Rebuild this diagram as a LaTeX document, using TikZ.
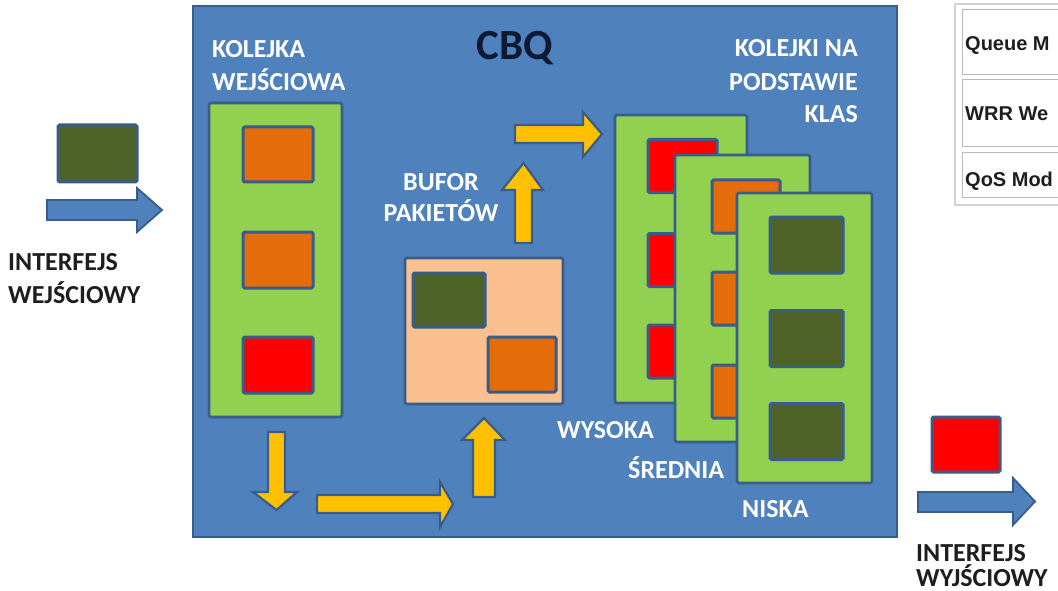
\documentclass[tikz,border=0pt]{standalone}
\usepackage{fontspec}
\setmainfont{Carlito}
\newfontfamily\tabfont{Liberation Sans}
\definecolor{bordc}{HTML}{385D8A}
\definecolor{bluec}{HTML}{4F81BD}
\definecolor{greenc}{HTML}{92D050}
\definecolor{orangec}{HTML}{E46C0A}
\definecolor{redc}{HTML}{FF0000}
\definecolor{dgreenc}{HTML}{4F6228}
\definecolor{peachc}{HTML}{FAC090}
\definecolor{yellowc}{HTML}{FFC000}
\definecolor{textc}{HTML}{1E1E1E}
\definecolor{cbqc}{HTML}{0E1A33}
\begin{document}
\begin{tikzpicture}[x=1pt,y=-1pt,
  box/.style={draw=bordc, line width=2.6pt, rounded corners=1.5pt, inner sep=0pt, outer sep=0pt},
  pkt/.style={box, line width=3pt},
  wlab/.style={text=white, font=\fontsize{26}{30}\selectfont\bfseries, inner sep=0pt},
  blab/.style={text=textc, font=\fontsize{26}{30}\selectfont\bfseries, inner sep=0pt},
  tlab/.style={text=textc, font=\tabfont\fontsize{20}{24}\selectfont\bfseries, inner sep=0pt},
  yarrow/.style={fill=yellowc, draw=bordc, line width=2.2pt, line join=miter},
  barrow/.style={fill=bluec, draw=bordc, line width=1.8pt, line join=miter},
  cell/.style={draw=gray!55, line width=1pt}]
\useasboundingbox (0,0) rectangle (1058,591);
\fill[white] (0,0) rectangle (1058,591);

% main CBQ box
\node[box, fill=bluec, minimum width=704pt, minimum height=531pt, rounded corners=0pt] (main) at (545,271.5) {};
\node[text=cbqc, font=\fontsize{43}{48}\selectfont\bfseries, inner sep=0pt, anchor=base] (cbq) at (515,60) {CBQ};

% input queue
\node[wlab, anchor=base west] (kol1) at (212,58) {KOLEJKA};
\node[wlab, anchor=base west] (kol2) at (212,91) {WEJŚCIOWA};
\node[box, fill=greenc, minimum width=133pt, minimum height=314pt] (inq) at (275.5,260) {};
\node[pkt, fill=orangec, minimum width=70pt, minimum height=55pt] (q1) at (278,154.5) {};
\node[pkt, fill=orangec, minimum width=70pt, minimum height=56pt] (q2) at (278,260) {};
\node[pkt, fill=redc, minimum width=70pt, minimum height=56pt] (q3) at (278,365) {};

% input interface
\node[pkt, fill=dgreenc, minimum width=79pt, minimum height=57pt] (inpkt) at (97.5,153.5) {};
\draw[barrow] (47,200) -- (137,200) -- (137,188) -- (162,210) -- (137,232) -- (137,220) -- (47,220) -- cycle;
\node[blab, anchor=base west] (if1) at (8,270) {INTERFEJS};
\node[blab, anchor=base west] (if2) at (8,303) {WEJŚCIOWY};

% buffer
\node[wlab, anchor=base] (buf1) at (441,190) {BUFOR};
\node[wlab, anchor=base] (buf2) at (441,222) {PAKIETÓW};
\node[box, fill=peachc, minimum width=158pt, minimum height=146pt] (buf) at (484,331) {};
\node[pkt, fill=dgreenc, minimum width=72pt, minimum height=54pt] (b1) at (449,300) {};
\node[pkt, fill=orangec, minimum width=68pt, minimum height=55pt] (b2) at (522,364.5) {};

% yellow arrows
\draw[yarrow] (268,432) -- (285,432) -- (285,492) -- (297,492) -- (276.5,510) -- (253,492) -- (268,492) -- cycle;
\draw[yarrow] (317,495) -- (440,495) -- (440,482) -- (453,504) -- (440,527) -- (440,513) -- (317,513) -- cycle;
\draw[yarrow] (473,497) -- (473,440) -- (462,440) -- (484,418) -- (505,440) -- (495,440) -- (495,497) -- cycle;
\draw[yarrow] (515,243) -- (515,190) -- (502,190) -- (523.5,163) -- (543,190) -- (532,190) -- (532,243) -- cycle;
\draw[yarrow] (515,125) -- (583,125) -- (583,112) -- (602,134) -- (583,157) -- (583,143) -- (515,143) -- cycle;

% class queues
\node[wlab, anchor=base east] (kn1) at (858,57) {KOLEJKI NA};
\node[wlab, anchor=base east] (kn2) at (858,91) {PODSTAWIE};
\node[wlab, anchor=base east] (kn3) at (858,123) {KLAS};

\node[box, fill=greenc, minimum width=132pt, minimum height=288pt] (wys) at (681,259) {};
\node[pkt, fill=redc, minimum width=69pt, minimum height=53pt] (w1) at (682.5,166) {};
\node[pkt, fill=redc, minimum width=69pt, minimum height=53pt] (w2) at (682.5,260) {};
\node[pkt, fill=redc, minimum width=69pt, minimum height=53pt] (w3) at (682.5,351.5) {};

\node[box, fill=greenc, minimum width=135pt, minimum height=287pt] (sre) at (742.5,298.5) {};
\node[pkt, fill=orangec, minimum width=68pt, minimum height=53pt] (s1) at (746,206.5) {};
\node[pkt, fill=orangec, minimum width=68pt, minimum height=53pt] (s2) at (746,298.5) {};
\node[pkt, fill=orangec, minimum width=68pt, minimum height=53pt] (s3) at (746,391.5) {};

\node[box, fill=greenc, minimum width=135pt, minimum height=290pt] (nis) at (804.5,338) {};
\node[pkt, fill=dgreenc, minimum width=73pt, minimum height=56pt] (n1) at (806.5,245) {};
\node[pkt, fill=dgreenc, minimum width=73pt, minimum height=56pt] (n2) at (806.5,338.5) {};
\node[pkt, fill=dgreenc, minimum width=73pt, minimum height=56pt] (n3) at (806.5,431.5) {};

\node[wlab, anchor=base west] (lw) at (557,438) {WYSOKA};
\node[wlab, anchor=base west] (ls) at (628,478) {ŚREDNIA};
\node[wlab, anchor=base west] (ln) at (742,517) {NISKA};

% output interface
\node[pkt, fill=redc, minimum width=68pt, minimum height=55pt] (outpkt) at (966,444.5) {};
\draw[barrow] (918,492) -- (1013,492) -- (1013,478) -- (1035,501.5) -- (1013,525) -- (1013,512) -- (918,512) -- cycle;
\node[blab, anchor=base west] (of1) at (916,561) {INTERFEJS};
\node[blab, anchor=base west] (of2) at (916,586) {WYJŚCIOWY};

% table fragment
\draw[gray!35, line width=1.2pt] (955,4) rectangle (1075,205);
\draw[cell] (962,10) rectangle (1075,75);
\draw[cell] (962,80) rectangle (1075,147);
\draw[cell] (962,153) rectangle (1075,197);
\node[tlab, anchor=base west] (t1) at (965,51) {Queue M};
\node[tlab, anchor=base west] (t2) at (965,121) {WRR We};
\node[tlab, anchor=base west] (t3) at (965,186) {QoS Mod};
\end{tikzpicture}
\end{document}
